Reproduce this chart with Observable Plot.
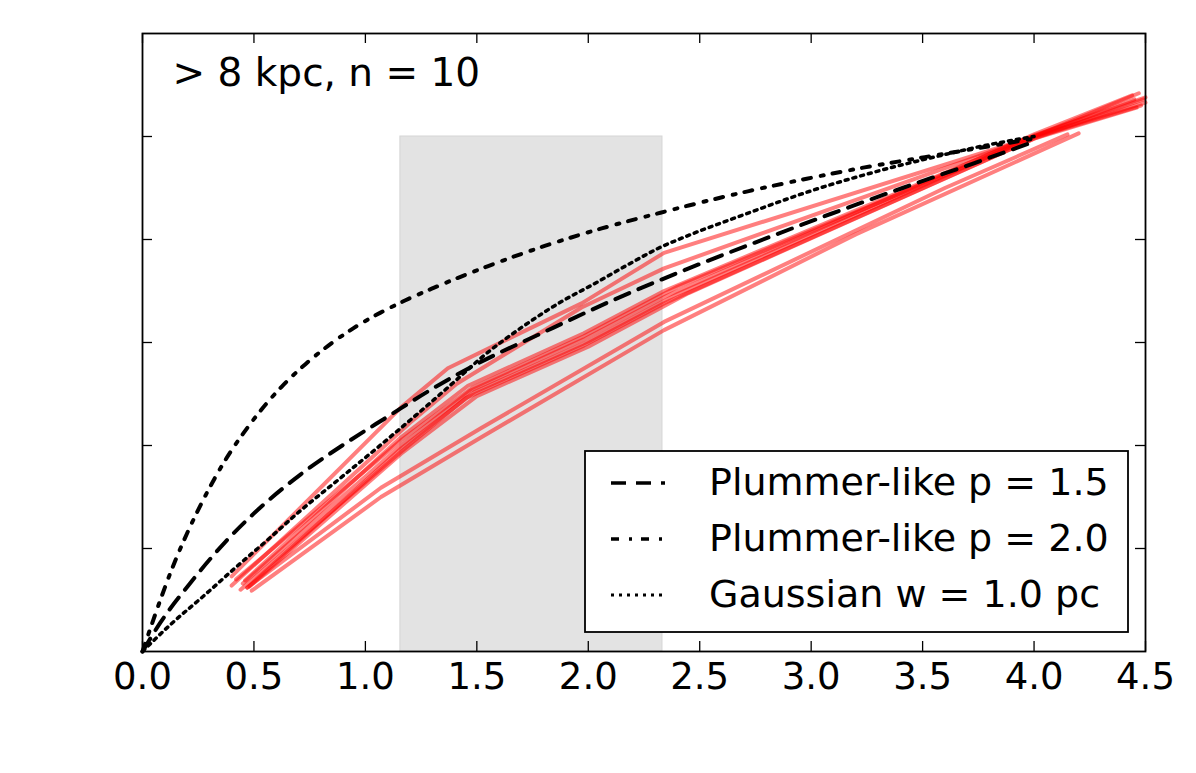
<!DOCTYPE html>
<html>
<head>
<meta charset="utf-8">
<script src="https://cdn.jsdelivr.net/npm/d3@7"></script>
<script src="https://cdn.jsdelivr.net/npm/@observablehq/plot@0.6"></script>
<style>
  html, body { margin: 0; padding: 0; background: #fff; }
  #chart { width: 1196px; height: 773px; }
</style>
</head>
<body>
<div id="chart"></div>
<script>
// ---------- data ----------
const xTicks = [0, 0.5, 1.0, 1.5, 2.0, 2.5, 3.0, 3.5, 4.0, 4.5];
const xTickLabels = ["0.0", "0.5", "1.0", "1.5", "2.0", "2.5", "3.0", "3.5", "4.0", "4.5"];
const yTicks = [1, 2, 3, 4, 5];
const xDomain = [0, 4.5];
const yDomain = [0, 6];

const annotation = "> 8 kpc, n = 10";
const legendLabels = ["Plummer-like p = 1.5", "Plummer-like p = 2.0", "Gaussian w = 1.0 pc"];

// shaded band
const bandX = [1.157, 2.333];
const bandY = [0, 5];

// Plummer-like p = 1.5 (dashed)
const plummer15X = [0, 0.08, 0.22, 0.37, 0.53, 0.71, 0.91, 1.10, 1.30, 1.49, 1.80, 2.11, 2.44, 2.76, 3.09, 3.41, 3.73, 4.00];
const plummer15Y = [0, 0.28, 0.68, 1.06, 1.40, 1.72, 2.02, 2.28, 2.55, 2.78, 3.10, 3.41, 3.71, 3.98, 4.25, 4.50, 4.74, 4.95];

// Plummer-like p = 2.0 (dash-dot)
const plummer20X = [0, 0.049, 0.085, 0.13, 0.184, 0.242, 0.296, 0.372, 0.453, 0.534, 0.624, 0.731, 0.834, 0.947, 1.068, 1.18, 1.306, 1.548, 1.808, 2.064, 2.324, 2.45, 2.72, 2.98, 3.24, 3.51, 3.73, 4.00];
const plummer20Y = [0, 0.31, 0.53, 0.79, 1.07, 1.34, 1.57, 1.86, 2.12, 2.35, 2.57, 2.79, 2.97, 3.14, 3.29, 3.41, 3.53, 3.74, 3.94, 4.11, 4.26, 4.33, 4.47, 4.59, 4.70, 4.80, 4.88, 4.98];

// Gaussian w = 1.0 pc (dotted)
const gaussX = [0, 0.13, 0.28, 0.42, 0.57, 0.71, 0.88, 1.06, 1.23, 1.41, 1.53, 1.71, 1.89, 2.01, 2.19, 2.31, 2.45, 2.71, 3.01, 3.31, 3.61, 3.73, 4.00];
const gaussY = [0, 0.27, 0.55, 0.82, 1.10, 1.37, 1.67, 1.99, 2.30, 2.64, 2.87, 3.16, 3.41, 3.55, 3.77, 3.91, 4.04, 4.25, 4.48, 4.67, 4.83, 4.89, 5.00];

// ten red samples
const sample1  = [[0.40,0.73],[1.16,2.37],[1.37,2.75],[1.97,3.38],[2.34,3.87],[4.00,5.00],[4.47,5.42]];
const sample2  = [[0.40,0.64],[1.20,2.22],[1.41,2.60],[1.97,3.34],[2.34,3.72],[4.00,5.00],[4.45,5.36]];
const sample3  = [[0.46,0.69],[1.16,2.08],[1.46,2.58],[1.98,3.09],[2.34,3.50],[4.00,5.01],[4.50,5.38]];
const sample4  = [[0.42,0.70],[1.16,2.05],[1.48,2.56],[1.98,3.06],[2.40,3.54],[4.00,4.99],[4.48,5.30]];
const sample5  = [[0.45,0.66],[1.16,2.00],[1.47,2.53],[1.98,3.03],[2.34,3.44],[4.00,5.02],[4.44,5.40]];
const sample6  = [[0.47,0.62],[1.16,1.97],[1.49,2.52],[2.00,3.01],[2.40,3.47],[4.00,5.00],[4.50,5.33]];
const sample7  = [[0.44,0.60],[1.16,1.94],[1.45,2.46],[1.98,2.97],[2.34,3.38],[4.00,4.98],[4.46,5.28]];
const sample8  = [[0.48,0.63],[1.16,1.92],[1.50,2.48],[2.00,2.96],[2.45,3.48],[4.00,4.98],[4.49,5.36]];
const sample9  = [[0.47,0.62],[1.07,1.59],[1.52,2.17],[2.34,3.20],[3.60,4.50],[4.15,5.02]];
const sample10 = [[0.49,0.59],[1.07,1.50],[1.52,2.08],[2.34,3.12],[3.20,4.05],[4.20,5.03]];

// ---------- tables ----------
const samples = [sample1, sample2, sample3, sample4, sample5, sample6, sample7, sample8, sample9, sample10];
const redTable = samples.flatMap((s, i) => s.map(([x, y]) => ({x, y, sample: i})));
const toTable = (xs, ys) => xs.map((x, i) => ({x, y: ys[i]}));
const p15 = toTable(plummer15X, plummer15Y);
const p20 = toTable(plummer20X, plummer20Y);
const gau = toTable(gaussX, gaussY);
const bandData = [{x1: bandX[0], x2: bandX[1], y1: bandY[0], y2: bandY[1]}];

// ---------- layout ----------
const W = 1196, H = 773;
const mL = 142, mR = 51, mT = 33, mB = 122;
const innerW = W - mL - mR, innerH = H - mT - mB;
const tickLen = 10;
const font = "DejaVu Sans, Bitstream Vera Sans, sans-serif";

const dashStyles = ["15,10", "8,10,3,9", "3,5"];
const lineWidths = [4, 4, 3.5];

const chart = Plot.plot({
  width: W, height: H,
  marginLeft: mL, marginRight: mR, marginTop: mT, marginBottom: mB,
  style: {fontFamily: font, background: "white", color: "black"},
  x: {domain: xDomain},
  y: {domain: yDomain, axis: null},
  marks: [
    Plot.rect(bandData, {x1: "x1", x2: "x2", y1: "y1", y2: "y2", fill: "#e3e3e3", stroke: "#d6d6d6", strokeWidth: 1}),
    Plot.line(redTable, {x: "x", y: "y", z: "sample", stroke: "red", strokeOpacity: 0.5, strokeWidth: 4, strokeLinejoin: "round"}),
    Plot.line(p15, {x: "x", y: "y", stroke: "black", strokeWidth: lineWidths[0], strokeDasharray: dashStyles[0], curve: "monotone-x"}),
    Plot.line(p20, {x: "x", y: "y", stroke: "black", strokeWidth: lineWidths[1], strokeDasharray: dashStyles[1], curve: "monotone-x"}),
    Plot.line(gau, {x: "x", y: "y", stroke: "black", strokeWidth: lineWidths[2], strokeDasharray: dashStyles[2], curve: "monotone-x"}),
    // inward ticks
    Plot.ruleX(xTicks, {x: d => d, insetTop: innerH - tickLen, stroke: "black", strokeWidth: 1.3}),
    Plot.ruleX(xTicks, {x: d => d, insetBottom: innerH - tickLen, stroke: "black", strokeWidth: 1.3}),
    Plot.ruleY(yTicks, {y: d => d, insetRight: innerW - tickLen, stroke: "black", strokeWidth: 1.3}),
    Plot.ruleY(yTicks, {y: d => d, insetLeft: innerW - tickLen, stroke: "black", strokeWidth: 1.3}),
    Plot.frame({stroke: "black", strokeWidth: 1.8}),
    Plot.axisX({ticks: xTicks, tickFormat: d => xTickLabels[xTicks.indexOf(d)], tickSize: 0, tickPadding: 11, fontSize: 37, label: null}),
    Plot.text([annotation], {text: d => d, frameAnchor: "top-left", textAnchor: "start", lineAnchor: "bottom", dx: 30, dy: 52, fontSize: 39, fill: "black"})
  ]
});

document.getElementById("chart").appendChild(chart);

// ---------- legend (inside plot, lower right) ----------
const svg = d3.select(chart);
const lg = svg.append("g").attr("font-family", font).attr("text-anchor", "start");
const box = {x: 585, y: 451, w: 543, h: 181};
lg.append("rect").attr("x", box.x).attr("y", box.y).attr("width", box.w).attr("height", box.h)
  .attr("fill", "white").attr("stroke", "black").attr("stroke-width", 1.8);
const rowY = [483, 539, 595];
legendLabels.forEach((label, i) => {
  lg.append("line").attr("x1", 611).attr("x2", 665).attr("y1", rowY[i]).attr("y2", rowY[i])
    .attr("stroke", "black").attr("stroke-width", lineWidths[i] - 0.5).attr("stroke-dasharray", dashStyles[i]);
  lg.append("text").attr("x", 709).attr("y", rowY[i] + 12).attr("font-size", 38)
    .attr("text-anchor", "start").attr("fill", "black").text(label);
});
</script>
</body>
</html>
